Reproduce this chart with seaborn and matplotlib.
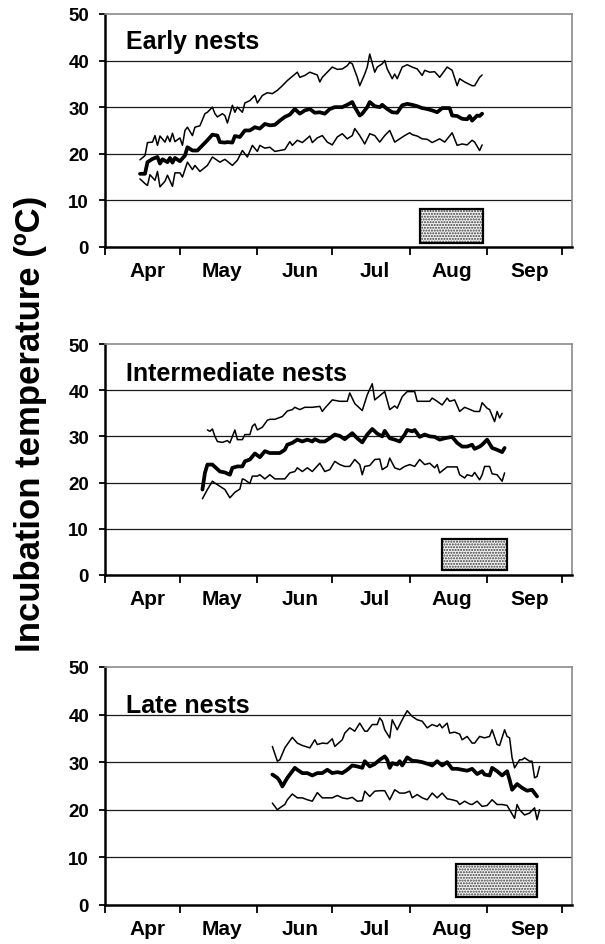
import matplotlib
matplotlib.use("Agg")
import matplotlib.pyplot as plt
from matplotlib.patches import Rectangle
import seaborn as sns

# ---------------- data (days since 1 April) ----------------
early_max_days = [14,16,17,19,20,21,22,24,25,26,27,28,30,31,32,33,35,36,38,40,41,43,44,45,47,48,49,51,52,53,55,56,58,60,61,63,65,67,69,71,73,75,77,78,80,82,85,86,87,89,91,93,95,97,98,99,101,102,104,105,106,108,109,111,112,113,115,116,117,119,121,123,125,127,128,130,132,134,137,139,141,142,144,147,148,150,151]
early_max = [18.7,19.6,22.4,22.5,23.9,21.8,23.8,22.5,23.8,22.6,24.4,22.6,23.4,21.8,25.0,25.7,23.9,25.7,26.0,28.6,28.9,30.0,28.6,27.9,28.6,28.2,26.6,30.4,28.9,30.0,28.9,30.9,31.4,32.5,30.9,32.5,33.1,32.9,33.6,34.6,35.7,36.6,37.5,36.4,36.8,37.5,36.9,35.4,36.4,37.5,38.6,38.1,38.2,38.9,39.6,39.3,36.4,34.6,37.1,38.6,41.4,37.5,38.6,39.3,40.0,38.2,36.1,37.1,36.1,38.6,39.1,38.6,38.2,36.8,37.9,37.5,37.6,36.4,38.6,37.9,34.6,36.1,35.4,34.6,34.6,36.4,36.9]

early_mean_days = [14,16,17,19,21,22,23,25,26,27,28,30,32,33,35,37,39,41,43,45,46,48,49,51,52,54,56,58,60,62,64,66,68,70,72,74,76,78,80,82,84,86,88,90,92,95,97,99,100,102,103,105,106,108,110,111,113,115,117,119,121,123,125,127,129,131,133,135,138,139,141,143,145,146,147,149,150,151]
early_mean = [15.7,15.7,18.2,18.9,19.3,17.9,18.8,18.2,19.1,18.1,19.1,18.4,19.6,21.4,20.7,20.7,21.8,22.9,24.1,23.9,22.5,22.4,22.5,22.4,23.8,23.6,25.0,25.0,25.7,25.4,26.4,26.1,26.2,27.1,27.9,28.4,29.6,28.6,29.3,29.6,28.8,28.9,28.6,29.6,30.0,30.0,30.5,31.1,30.0,28.2,28.6,30.0,31.1,30.2,30.0,30.5,29.6,28.9,28.8,30.4,30.7,30.5,30.2,29.8,29.6,29.3,28.9,29.8,29.8,28.2,28.1,27.5,27.4,28.1,27.1,28.2,28.1,28.6]

early_min_days = [14,16,17,18,20,21,22,24,25,27,28,30,31,33,35,36,38,41,43,46,48,51,53,55,57,59,61,62,64,66,68,70,72,74,75,77,79,82,83,85,87,89,91,93,95,97,99,100,102,104,106,108,110,112,114,116,118,120,122,123,125,127,129,131,134,136,139,141,143,145,147,148,150,151]
early_min = [14.6,13.6,13.2,15.5,14.3,16.2,12.9,14.1,15.4,13.0,15.9,15.9,15.0,18.2,16.6,17.5,16.2,17.5,19.3,18.2,18.8,17.5,18.6,20.7,19.3,21.8,20.5,21.8,21.2,21.4,20.5,20.7,20.9,22.6,21.8,22.9,22.4,23.8,22.4,23.4,23.9,22.5,21.9,23.6,24.3,23.2,23.9,25.4,23.9,22.1,24.3,23.9,22.5,23.9,25.0,22.5,23.2,23.9,24.5,24.1,23.8,23.2,23.1,22.4,23.2,22.5,24.5,21.8,22.1,21.9,22.9,22.5,20.7,21.9]

inter_max_days = [41,42,43,44,45,47,49,50,52,53,55,56,58,59,60,61,63,65,66,68,71,73,75,76,78,80,83,86,87,88,91,94,97,98,100,103,105,107,108,110,112,114,116,117,119,121,124,125,128,130,131,133,135,137,138,140,142,144,148,150,151,153,154,156,157,158,159]
inter_max = [31.4,31.1,31.6,30.0,28.9,28.7,29.1,28.6,31.4,29.3,29.3,30.4,30.4,32.2,32.7,31.4,32.0,33.5,33.7,33.7,34.3,35.5,35.8,36.3,35.8,36.3,36.3,36.5,35.4,36.1,37.9,37.6,37.6,39.4,37.1,35.6,39.0,41.4,37.9,38.8,39.7,35.8,36.6,36.1,38.6,39.7,39.7,37.6,37.6,37.6,38.3,37.6,36.8,38.3,37.6,37.9,35.4,36.3,35.4,35.4,37.3,36.1,35.8,33.2,35.4,34.0,35.0]

inter_mean_days = [39,40,41,43,44,46,48,50,51,53,55,56,58,60,62,64,66,68,70,72,73,75,77,79,81,83,84,86,88,90,92,94,96,99,101,103,105,107,109,111,112,114,116,118,120,121,123,124,126,128,130,132,134,136,139,141,143,145,147,148,150,151,153,155,157,159,160]
inter_mean = [18.5,22.1,23.9,23.9,23.4,22.4,22.2,21.7,23.2,23.5,23.5,24.6,25.0,26.3,25.5,26.8,26.4,26.4,26.4,27.1,28.2,28.6,29.3,28.9,29.3,28.9,29.4,28.9,28.9,29.6,30.4,30.1,29.4,30.7,29.6,28.7,30.4,31.6,30.6,30.0,31.2,29.6,29.3,28.9,30.4,31.4,31.1,31.4,29.9,30.4,30.0,29.9,29.3,29.6,29.9,28.6,27.8,27.8,28.2,27.3,27.8,28.2,29.3,27.5,27.1,26.6,27.5]

inter_min_days = [39,41,43,44,46,48,50,52,54,55,56,58,59,61,62,64,66,68,70,72,74,76,77,79,81,83,86,88,90,92,94,96,98,100,102,103,104,106,108,110,111,113,114,116,118,120,122,124,126,128,130,132,133,134,137,140,141,142,144,145,147,148,149,150,151,152,154,155,157,159,160]
inter_min = [16.5,18.5,20.3,19.9,19.2,18.5,16.7,17.9,18.6,20.8,20.6,19.8,21.4,21.4,21.7,20.8,21.7,20.8,20.8,20.8,22.1,22.4,23.2,22.4,23.2,22.4,24.2,22.4,22.8,24.6,23.9,23.5,23.5,25.0,23.9,21.7,23.5,23.7,25.0,25.1,22.8,23.5,25.3,23.2,22.8,23.5,23.9,23.5,25.0,23.9,24.2,23.2,23.9,22.1,23.4,23.4,23.4,21.7,21.0,21.7,21.4,22.2,21.4,20.6,21.7,23.5,23.5,21.9,21.7,20.3,22.1]

late_max_days = [67,69,70,72,74,75,77,79,82,84,85,87,89,91,92,95,96,98,100,102,104,105,107,109,110,111,112,114,115,117,119,121,123,125,127,129,131,133,134,135,137,138,140,142,143,145,147,148,150,152,154,155,157,158,160,161,162,163,164,166,167,168,170,171,172,173,174]
late_max = [33.3,30.2,30.5,33.0,34.5,35.2,34.0,33.5,33.0,34.7,33.7,34.0,33.9,34.9,33.3,34.7,36.1,37.2,36.5,38.2,36.5,36.5,37.9,37.9,39.3,38.6,36.8,35.1,38.9,36.8,38.9,40.8,39.6,38.9,38.6,37.2,37.9,37.5,38.0,37.2,38.2,36.1,36.3,35.9,34.7,35.4,34.0,34.0,35.4,35.1,35.4,36.8,33.7,33.5,36.8,35.4,35.1,30.9,28.8,30.5,30.5,30.9,30.2,30.2,26.7,27.0,29.1]

late_mean_days = [67,69,70,71,73,75,76,77,79,81,83,85,87,89,91,93,95,97,99,101,103,104,106,108,110,112,113,114,115,117,118,119,121,123,125,127,130,131,133,135,137,139,141,143,145,147,149,151,152,154,155,157,159,161,162,163,165,167,169,171,173]
late_mean = [27.4,26.7,26.0,24.9,26.7,28.1,28.8,28.4,27.7,27.7,27.2,27.7,27.7,28.4,27.7,27.9,27.7,28.4,29.3,29.1,28.8,30.2,29.1,29.6,30.5,31.2,30.5,28.8,29.8,29.5,30.2,29.3,31.0,30.3,30.2,30.0,29.5,29.3,30.2,29.3,30.0,28.6,28.6,28.4,28.2,28.6,27.5,28.1,27.4,27.2,28.8,28.1,27.2,28.1,26.3,24.2,25.4,24.6,24.0,24.2,22.8]

late_min_days = [67,69,70,72,73,75,77,79,81,83,85,87,89,91,93,95,97,99,101,103,104,106,108,110,112,114,116,118,120,122,123,125,127,129,131,133,135,137,139,141,142,144,146,147,149,151,153,155,157,159,161,162,164,165,166,168,170,172,173,174]
late_min = [21.4,20.0,20.4,21.1,22.1,23.3,22.5,22.5,22.1,21.8,23.6,22.5,22.5,22.5,23.0,22.5,22.3,22.6,21.8,21.9,23.9,22.8,23.9,24.0,24.0,22.1,24.2,23.5,23.5,23.9,22.5,23.2,22.5,22.1,23.5,22.5,23.5,22.3,22.1,21.8,21.1,21.8,21.2,21.1,21.8,20.7,20.9,22.1,21.1,21.1,20.9,20.0,18.2,21.1,20.0,18.9,19.3,20.4,17.9,20.0]

panel_titles = ["Early nests", "Intermediate nests", "Late nests"]
# shaded box (start day, end day, low, high)
box_start = [126, 135, 140.5]
box_end = [151.5, 161, 173]
box_low = [0.9, 1.1, 1.6]
box_high = [8.1, 7.7, 8.6]

month_names = ["Apr", "May", "Jun", "Jul", "Aug", "Sep"]
month_starts = [0, 30, 61, 91, 122, 153, 183]
y_ticks = [0, 10, 20, 30, 40, 50]
y_label = "Incubation temperature (ºC)"

panels = [
    (early_max_days, early_max, early_mean_days, early_mean, early_min_days, early_min),
    (inter_max_days, inter_max, inter_mean_days, inter_mean, inter_min_days, inter_min),
    (late_max_days, late_max, late_mean_days, late_mean, late_min_days, late_min),
]

# ---------------- style ----------------
sns.set_style("white")
plt.rcParams['font.family'] = ['Liberation Sans', 'DejaVu Sans']
plt.rcParams['font.weight'] = 'bold'
plt.rcParams['text.color'] = 'black'
plt.rcParams['xtick.color'] = 'black'
plt.rcParams['ytick.color'] = 'black'
plt.rcParams['axes.labelcolor'] = 'black'
plt.rcParams['hatch.linewidth'] = 1.0

fig = plt.figure(figsize=(6.05, 9.45), dpi=100)
axes_pos = [
    [0.1736, 0.7376, 0.7719, 0.2466],
    [0.1736, 0.3905, 0.7719, 0.2444],
    [0.1736, 0.0413, 0.7719, 0.2519],
]
title_y = [0.853, 0.845, 0.812]

for i, (pos, data) in enumerate(zip(axes_pos, panels)):
    ax = fig.add_axes(pos)
    mxd, mx, md, mn, lnd, ln = data
    sns.lineplot(x=mxd, y=mx, ax=ax, color="black", lw=1.1, estimator=None)
    sns.lineplot(x=lnd, y=ln, ax=ax, color="black", lw=1.1, estimator=None)
    sns.lineplot(x=md, y=mn, ax=ax, color="black", lw=2.7, estimator=None)

    # box
    ax.add_patch(Rectangle((box_start[i], box_low[i]), box_end[i] - box_start[i],
                           box_high[i] - box_low[i], facecolor="#f4f4f4",
                           edgecolor="#3a3a3a", hatch="......", lw=0, zorder=3))
    ax.add_patch(Rectangle((box_start[i], box_low[i]), box_end[i] - box_start[i],
                           box_high[i] - box_low[i], facecolor="none",
                           edgecolor="black", lw=1.6, zorder=4))

    ax.set_xlim(0, 187)
    ax.set_ylim(0, 50)
    ax.set_yticks(y_ticks)
    ax.set_yticklabels([str(v) for v in y_ticks], fontsize=13.5, fontweight="bold",
                       color="black")
    for g in y_ticks[1:-1]:
        ax.axhline(g, color="#1a1a1a", lw=0.9, zorder=1)

    ax.set_xticks(month_starts)
    ax.set_xticklabels([])
    ax.set_xticks([m + 17 for m in month_starts[:-1]], minor=True)
    ax.set_xticklabels(month_names, minor=True, fontsize=15, fontweight="bold",
                       color="black")
    ax.tick_params(axis="x", which="major", direction="out", length=6, width=1.3,
                   color="black", bottom=True)
    ax.tick_params(axis="x", which="minor", length=0, pad=10, bottom=True)
    ax.tick_params(axis="y", direction="out", length=4.5, width=1.3,
                   color="black", pad=7, left=True)

    for s in ["left", "bottom"]:
        ax.spines[s].set_color("black")
        ax.spines[s].set_linewidth(1.8)
    for s in ["top", "right"]:
        ax.spines[s].set_color("#8a8a8a")
        ax.spines[s].set_linewidth(1.2)
    ax.set_xlabel("")
    ax.set_ylabel("")
    ax.text(0.045, title_y[i], panel_titles[i], transform=ax.transAxes,
            fontsize=18, fontweight="bold", ha="left", va="baseline", color="black")

fig.text(0.051, 0.551, y_label, rotation=90, fontsize=25, fontweight="bold",
         ha="center", va="center", color="black")

fig.savefig("out.png", dpi=100)
